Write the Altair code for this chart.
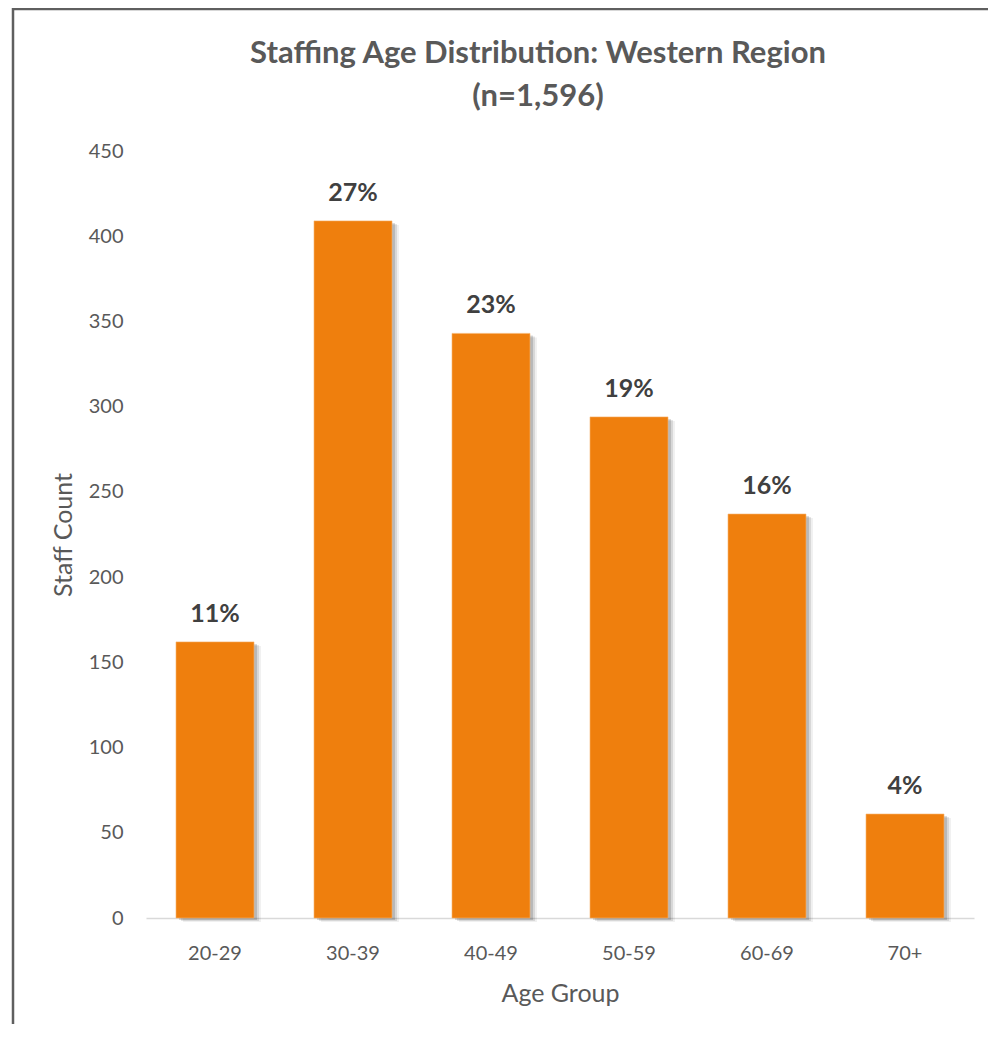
import altair as alt
import pandas as pd

age_groups = ["20-29", "30-39", "40-49", "50-59", "60-69", "70+"]
staff_counts = [162, 409, 343, 294, 237, 61]
pct_labels = ["11%", "27%", "23%", "19%", "16%", "4%"]

df = pd.DataFrame({"age": age_groups, "count": staff_counts, "pct": pct_labels})

FONT = "Lato"
ORANGE = "#EF7F0D"

x_enc = alt.X(
    "age:N",
    sort=age_groups,
    scale=alt.Scale(paddingInner=0.435, paddingOuter=0.2175),
    axis=alt.Axis(
        title="Age Group",
        labelAngle=0,
        labelFontSize=20,
        labelColor="#595959",
        labelFont=FONT,
        labelPadding=25,
        ticks=False,
        domain=True,
        domainColor="#D9D9D9",
        domainWidth=1.5,
        grid=False,
        titleFont=FONT,
        titleFontSize=25,
        titleFontWeight="normal",
        titleColor="#595959",
        titlePadding=18,
    ),
)
y_enc = alt.Y(
    "count:Q",
    scale=alt.Scale(domain=[0, 450]),
    axis=alt.Axis(
        title="Staff Count",
        values=[0, 50, 100, 150, 200, 250, 300, 350, 400, 450],
        labelFontSize=20,
        labelColor="#595959",
        labelFont=FONT,
        labelPadding=23,
        ticks=False,
        domain=False,
        grid=False,
        titleFont=FONT,
        titleFontSize=25,
        titleFontWeight="normal",
        titleColor="#595959",
        titlePadding=12,
    ),
)

base = alt.Chart(df)

shadow0 = base.mark_bar(color="#000000", opacity=0.06, xOffset=7, yOffset=4).encode(x=x_enc, y=y_enc)
shadow1 = base.mark_bar(color="#000000", opacity=0.10, xOffset=5, yOffset=3).encode(x=x_enc, y=y_enc)
shadow2 = base.mark_bar(color="#000000", opacity=0.14, xOffset=3, yOffset=2).encode(x=x_enc, y=y_enc)
bars = base.mark_bar(color=ORANGE, stroke="#F6B26B", strokeWidth=0.6).encode(x=x_enc, y=y_enc)
labels = base.mark_text(
    baseline="middle", dy=-28, font=FONT, fontSize=25, fontWeight="bold", color="#404040"
).encode(x=x_enc, y=y_enc, text="pct:N")

border = alt.Chart(pd.DataFrame({"b": [0]})).mark_rect(
    fillOpacity=0, stroke="#5F5F5F", strokeWidth=2.5
).encode(x=alt.value(-133), x2=alt.value(1000), y=alt.value(-142), y2=alt.value(1000))

chart = alt.layer(shadow0, shadow1, shadow2, bars, labels, border).properties(
    width=828,
    height=767,
    autosize=alt.AutoSizeParams(type="none"),
    padding={"left": 138, "top": 143, "right": 14, "bottom": 106},
    title=alt.TitleParams(
        text=["Staffing Age Distribution: Western Region", "(n=1,596)"],
        font=FONT,
        fontSize=31,
        fontWeight="bold",
        color="#595959",
        anchor="middle",
        frame="group",
        dx=-22,
        offset=-105,
        lineHeight=43,
    ),
).configure(background="white").configure_view(stroke=None, strokeWidth=0)

chart.save("out.html", embed_options={"renderer": "svg", "actions": False})
